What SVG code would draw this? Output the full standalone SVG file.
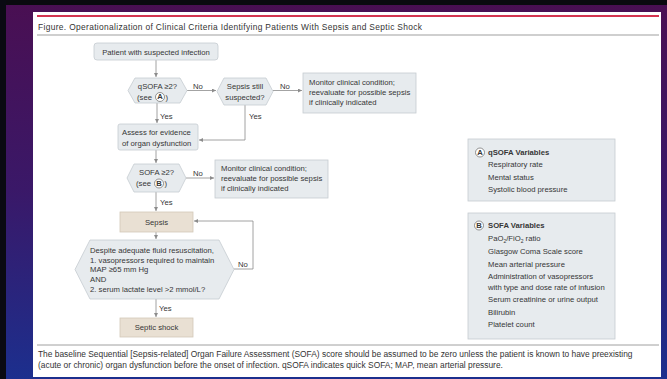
<svg xmlns="http://www.w3.org/2000/svg" width="667" height="379" viewBox="0 0 667 379">
<defs>
<linearGradient id="bg" x1="0" y1="0" x2="0" y2="1">
<stop offset="0" stop-color="#4a0f52"/>
<stop offset="0.5" stop-color="#3a1868"/>
<stop offset="1" stop-color="#1c2f8e"/>
</linearGradient>
<marker id="ah" viewBox="0 0 6 6" refX="6" refY="3" markerWidth="4" markerHeight="4" orient="auto" markerUnits="userSpaceOnUse">
<path d="M0,0 L6,3 L0,6 z" fill="#8c8c8c"/>
</marker>
<style>
.t{font-family:"Liberation Sans",Arial,sans-serif;font-size:7.7px;fill:#363636}
.c{text-anchor:middle}
.b{font-weight:bold}
.box{fill:#e7ebee;stroke:#c5cbd0;stroke-width:0.8}
.beige{fill:#e9e0d3;stroke:#d3c8b8;stroke-width:0.8}
.ln{fill:none;stroke:#8c8c8c;stroke-width:0.8}
.circ{fill:#fff;stroke:#666;stroke-width:0.7}
.ft{font-family:"Liberation Sans",Arial,sans-serif;font-size:8.4px;fill:#333}
</style>
</defs>
<rect x="0" y="0" width="667" height="379" fill="url(#bg)"/>
<rect x="0" y="0" width="667" height="5" fill="#0a0a0f"/>
<rect x="0" y="0" width="6" height="379" fill="#0a0a12"/>
<rect x="33" y="12" width="628" height="365" fill="#ffffff"/>
<line x1="37" y1="16" x2="659" y2="16" stroke="#d4344f" stroke-width="2"/>
<text class="ft" x="38" y="29.5" font-size="9.8" textLength="384" lengthAdjust="spacing">Figure. Operationalization of Clinical Criteria Identifying Patients With Sepsis and Septic Shock</text>
<line x1="37" y1="35" x2="659" y2="35" stroke="#a0a0a0" stroke-width="1.2"/>

<g id="connectors">
<line class="ln" x1="156" y1="60" x2="156" y2="77" marker-end="url(#ah)"/>
<line class="ln" x1="187" y1="90.5" x2="216" y2="90.5" marker-end="url(#ah)"/>
<line class="ln" x1="273" y1="90.5" x2="302" y2="90.5" marker-end="url(#ah)"/>
<line class="ln" x1="157" y1="103" x2="157" y2="123" marker-end="url(#ah)"/>
<polyline class="ln" points="245,105 245,140 199,140" marker-end="url(#ah)"/>
<line class="ln" x1="156" y1="150" x2="156" y2="163" marker-end="url(#ah)"/>
<line class="ln" x1="186" y1="178" x2="214" y2="178" marker-end="url(#ah)"/>
<line class="ln" x1="156" y1="192" x2="156" y2="211" marker-end="url(#ah)"/>
<line class="ln" x1="156" y1="232" x2="156" y2="239" marker-end="url(#ah)"/>
<polyline class="ln" points="234,269 253,269 253,221 194,221" marker-end="url(#ah)"/>
<line class="ln" x1="156" y1="299" x2="156" y2="317" marker-end="url(#ah)"/>
<text class="t" x="193" y="89">No</text>
<text class="t" x="280" y="89">No</text>
<text class="t" x="160" y="119">Yes</text>
<text class="t" x="249" y="119">Yes</text>
<text class="t" x="193" y="176">No</text>
<text class="t" x="160" y="205">Yes</text>
<text class="t" x="238" y="267">No</text>
<text class="t" x="159" y="311">Yes</text>
</g>

<g id="patient">
<rect class="box" x="94" y="43" width="124" height="17" rx="3"/>
<text class="t c" x="156" y="54.5">Patient with suspected infection</text>
</g>

<g id="qsofa">
<polygon class="box" points="128,90.5 135,78 180,78 187,90.5 180,103 135,103"/>
<text class="t c" x="157.5" y="89">qSOFA ≥2?</text>
<text class="t" x="137" y="99.5">(see</text>
<circle class="circ" cx="160" cy="97" r="4.5"/>
<text class="t c b" x="160" y="99.3" font-size="6">A</text>
<text class="t" x="165.5" y="99.5">)</text>
</g>

<g id="sepsis-still">
<polygon class="box" points="217,91.5 224,78 266,78 273,91.5 266,105 224,105"/>
<text class="t c" x="245" y="89">Sepsis still</text>
<text class="t c" x="245" y="99.5">suspected?</text>
</g>

<g id="monitor1">
<rect class="box" x="303" y="73" width="113" height="40"/>
<text class="t" x="309" y="85">Monitor clinical condition;</text>
<text class="t" x="309" y="95">reevaluate for possible sepsis</text>
<text class="t" x="309" y="105">if clinically indicated</text>
</g>

<g id="assess">
<rect class="box" x="118" y="124" width="80" height="26" rx="2"/>
<text class="t" x="122" y="135">Assess for evidence</text>
<text class="t" x="122" y="145.5">of organ dysfunction</text>
</g>

<g id="sofa">
<polygon class="box" points="127,178 134,164 179,164 186,178 179,192 134,192"/>
<text class="t c" x="156.5" y="175">SOFA ≥2?</text>
<text class="t" x="136" y="186">(see</text>
<circle class="circ" cx="159" cy="183.5" r="4.5"/>
<text class="t c b" x="159" y="185.8" font-size="6">B</text>
<text class="t" x="164.5" y="186">)</text>
</g>

<g id="monitor2">
<rect class="box" x="215" y="160" width="113" height="38"/>
<text class="t" x="221" y="171">Monitor clinical condition;</text>
<text class="t" x="221" y="181">reevaluate for possible sepsis</text>
<text class="t" x="221" y="191">if clinically indicated</text>
</g>

<g id="sepsis">
<rect class="beige" x="120" y="212" width="73" height="20"/>
<text class="t c" x="156.5" y="224.5">Sepsis</text>
</g>

<g id="shock-criteria">
<polygon class="box" points="75,269.5 90,240 219,240 234,269.5 219,299 90,299"/>
<text class="t" x="90" y="252.5">Despite adequate fluid resuscitation,</text>
<text class="t" x="90" y="262.5">1. vasopressors required to maintain</text>
<text class="t" x="90" y="272">MAP ≥65 mm Hg</text>
<text class="t" x="90" y="281.5">AND</text>
<text class="t" x="90" y="291.5">2. serum lactate level &gt;2 mmol/L?</text>
</g>

<g id="septic-shock">
<rect class="beige" x="120" y="318" width="73" height="19"/>
<text class="t c" x="156.5" y="330">Septic shock</text>
</g>

<g id="legend-a">
<rect class="box" x="468" y="139" width="147" height="62"/>
<circle class="circ" cx="480" cy="152.5" r="4.5"/>
<text class="t c b" x="480" y="154.8" font-size="6">A</text>
<text class="t b" x="488" y="155">qSOFA Variables</text>
<text class="t" x="488" y="167">Respiratory rate</text>
<text class="t" x="488" y="179.5">Mental status</text>
<text class="t" x="488" y="192">Systolic blood pressure</text>
</g>

<g id="legend-b">
<rect class="box" x="468" y="213" width="147" height="126"/>
<circle class="circ" cx="479" cy="225.5" r="4.5"/>
<text class="t c b" x="479" y="227.8" font-size="6">B</text>
<text class="t b" x="488" y="228">SOFA Variables</text>
<text class="t" x="488" y="241">PaO<tspan font-size="5" dy="1.5">2</tspan><tspan dy="-1.5">/FiO</tspan><tspan font-size="5" dy="1.5">2</tspan><tspan dy="-1.5"> ratio</tspan></text>
<text class="t" x="488" y="254">Glasgow Coma Scale score</text>
<text class="t" x="488" y="266.5">Mean arterial pressure</text>
<text class="t" x="488" y="279">Administration of vasopressors</text>
<text class="t" x="488" y="289.5">with type and dose rate of infusion</text>
<text class="t" x="488" y="302">Serum creatinine or urine output</text>
<text class="t" x="488" y="314.5">Bilirubin</text>
<text class="t" x="488" y="327">Platelet count</text>
</g>

<line x1="37" y1="345" x2="659" y2="345" stroke="#a0a0a0" stroke-width="1"/>
<text class="ft" x="38" y="357">The baseline Sequential [Sepsis-related] Organ Failure Assessment (SOFA) score should be assumed to be zero unless the patient is known to have preexisting</text>
<text class="ft" x="38" y="368">(acute or chronic) organ dysfunction before the onset of infection. qSOFA indicates quick SOFA; MAP, mean arterial pressure.</text>
</svg>
